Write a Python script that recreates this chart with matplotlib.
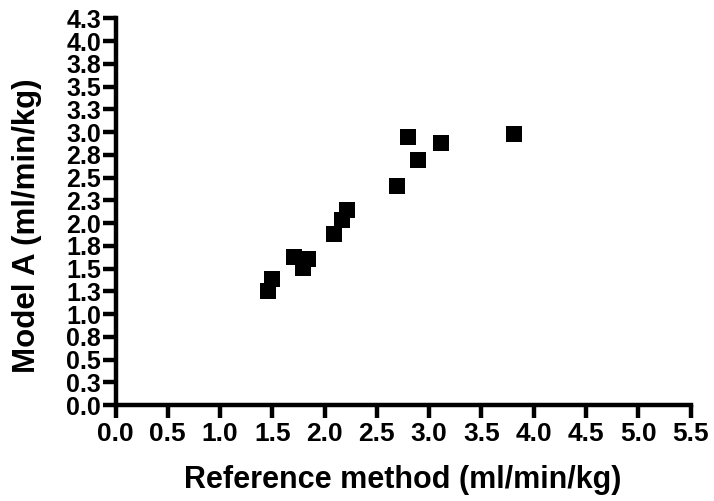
import matplotlib
matplotlib.use('Agg')
import matplotlib.pyplot as plt

# Data
ref_method = [1.46, 1.50, 1.71, 1.79, 1.84, 2.09, 2.17, 2.21, 2.69, 2.80, 2.89, 3.11, 3.81]
model_a = [1.25, 1.39, 1.63, 1.51, 1.61, 1.88, 2.03, 2.14, 2.41, 2.95, 2.69, 2.88, 2.98]

x_ticks = [0.0, 0.5, 1.0, 1.5, 2.0, 2.5, 3.0, 3.5, 4.0, 4.5, 5.0, 5.5]
y_ticks = [0.0, 0.25, 0.5, 0.75, 1.0, 1.25, 1.5, 1.75, 2.0, 2.25, 2.5, 2.75, 3.0, 3.25, 3.5, 3.75, 4.0, 4.25]
y_tick_labels = ['0.0', '0.3', '0.5', '0.8', '1.0', '1.3', '1.5', '1.8', '2.0', '2.3',
                 '2.5', '2.8', '3.0', '3.3', '3.5', '3.8', '4.0', '4.3']

plt.rcParams['font.family'] = ['Liberation Sans', 'DejaVu Sans']
plt.rcParams['font.weight'] = 'bold'

fig = plt.figure(figsize=(7.14, 5.01), dpi=100)
ax = fig.add_axes([0.1618, 0.1916, 0.8053, 0.7715])

ax.scatter(ref_method, model_a, marker='s', s=16**2 * 0.52, c='black', linewidths=0, zorder=3, clip_on=False)

ax.set_xlim(0, 5.5)
ax.set_ylim(0, 4.25)
ax.set_xticks(x_ticks)
ax.set_xticklabels([f'{v:.1f}' for v in x_ticks])
ax.set_yticks(y_ticks)
ax.set_yticklabels(y_tick_labels)

for side in ['top', 'right']:
    ax.spines[side].set_visible(False)
for side in ['left', 'bottom']:
    ax.spines[side].set_linewidth(3.2)
    ax.spines[side].set_capstyle('projecting')

ax.tick_params(axis='both', which='major', length=9.4, width=3.2, direction='out')
ax.tick_params(axis='x', labelsize=19, pad=3)
ax.tick_params(axis='y', labelsize=18, pad=1)
for lbl in ax.get_xticklabels() + ax.get_yticklabels():
    lbl.set_fontweight('bold')

ax.set_xlabel('Reference method (ml/min/kg)', fontsize=22, fontweight='bold')
ax.set_ylabel('Model A (ml/min/kg)', fontsize=22.5, fontweight='bold')
ax.xaxis.set_label_coords(0.5, -0.155)
ax.yaxis.set_label_coords(-0.128, 0.464)

plt.savefig('out.png', dpi=100)
